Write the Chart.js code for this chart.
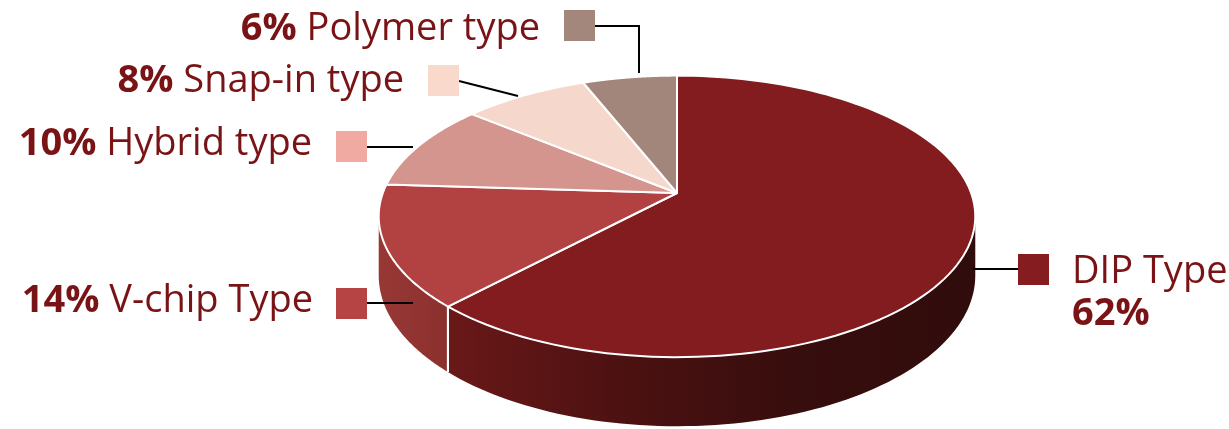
<!DOCTYPE html>
<html><head><meta charset="utf-8">
<script src="https://cdn.jsdelivr.net/npm/chart.js@4/dist/chart.umd.min.js"></script>
<style>html,body{margin:0;padding:0;background:#fff;}#wrap{width:1229px;height:429px;position:relative}</style>
</head><body><div id="wrap"><canvas id="c"></canvas></div>
<script>
// ---- data ----
const categories = ['DIP Type', 'V-chip Type', 'Hybrid type', 'Snap-in type', 'Polymer type'];
const shares = [62, 14, 10, 8, 6];
const percentLabels = ['62%', '14%', '10%', '8%', '6%'];

// ---- style ----
const sliceColors = ['#821c1f', '#b24141', '#d4958f', '#f6d7cb', '#a3867b'];
const swatchColors = ['#851c1f', '#b64444', '#f0aaa1', '#f9d9cc', '#a4877c'];
const sideStops = [
  ['#6a1818', '#4c1111', '#370d0d', '#310c0c'],
  ['#983835', '#8b302e'],
  ['#b07470', '#a06460'],
  ['#d8b8ac', '#c8a89c'],
  ['#8a6e64', '#7a5e54']
];
const textColor = '#7a1315';
const FONT = '"Open Sans", "Noto Sans", sans-serif';
const FS = 38;
// label layout (pixels)
const labelLayout = [
  { side: 'right', sq: [1018, 254], line: [[973, 269], [1018, 269]], x: 1072, base: 283, pctBase: 325 },
  { side: 'left', sq: [336, 288], line: [[367, 303], [413, 303]], x: 313, base: 312 },
  { side: 'left', sq: [336, 131], line: [[367, 147], [413, 147]], x: 312, base: 155 },
  { side: 'left', sq: [428, 65], line: [[459, 81], [518, 96]], x: 404, base: 92 },
  { side: 'left', sq: [564, 10], line: [[595, 26], [639, 26], [639, 73]], x: 540, base: 40 }
];
const SQ = 31;

function geom(el) {
  const R = el.outerRadius;
  return { cx: el.x, cy: el.y, A: R * 1.532, B: R * 0.713, e: 0.166, D: R * 0.30 };
}
function proj(g, th, rho, h) {
  const s = Math.sin(th), c = Math.cos(th);
  const d = 1 - g.e * rho * s;
  return [g.cx + g.A * rho * c / d, g.cy + (g.B * rho * s + (h || 0)) / d];
}

const pie3d = {
  id: 'pie3d',
  beforeDatasetsDraw(chart) {
    const ctx = chart.ctx;
    const arcs = chart.getDatasetMeta(0).data;
    const g = geom(arcs[0]);
    const a0 = Math.asin(g.e);
    const lo0 = a0, hi0 = Math.PI - a0;
    ctx.save();
    arcs.forEach((arc, i) => {
      const lo = Math.max(arc.startAngle, lo0), hi = Math.min(arc.endAngle, hi0);
      if (hi <= lo) return;
      const N = 80;
      const pL = proj(g, hi, 1), pR = proj(g, lo, 1);
      const grad = ctx.createLinearGradient(pL[0], 0, pR[0], 0);
      const st = sideStops[i];
      st.forEach((c, k) => grad.addColorStop(st.length === 1 ? 0 : k / (st.length - 1), c));
      ctx.beginPath();
      for (let k = 0; k <= N; k++) {
        const t = lo + (hi - lo) * k / N;
        const p = proj(g, t, 1, 0);
        k === 0 ? ctx.moveTo(p[0], p[1]) : ctx.lineTo(p[0], p[1]);
      }
      for (let k = N; k >= 0; k--) {
        const t = lo + (hi - lo) * k / N;
        const p = proj(g, t, 1, g.D);
        ctx.lineTo(p[0], p[1]);
      }
      ctx.closePath();
      ctx.fillStyle = grad;
      ctx.fill();
    });
    ctx.strokeStyle = '#ffffff';
    ctx.lineWidth = 2;
    arcs.forEach(arc => {
      [arc.startAngle, arc.endAngle].forEach(t => {
        if (t > lo0 && t < hi0) {
          const p1 = proj(g, t, 1, 0), p2 = proj(g, t, 1, g.D);
          ctx.beginPath(); ctx.moveTo(p1[0], p1[1]); ctx.lineTo(p2[0], p2[1]); ctx.stroke();
        }
      });
    });
    arcs.forEach((arc, i) => {
      const N = 120;
      ctx.beginPath();
      ctx.moveTo(g.cx, g.cy);
      for (let k = 0; k <= N; k++) {
        const t = arc.startAngle + (arc.endAngle - arc.startAngle) * k / N;
        const p = proj(g, t, 1, 0);
        ctx.lineTo(p[0], p[1]);
      }
      ctx.closePath();
      ctx.fillStyle = arc.options.backgroundColor;
      ctx.fill();
      ctx.lineJoin = 'round';
      ctx.strokeStyle = '#ffffff';
      ctx.lineWidth = 2;
      ctx.stroke();
    });
    ctx.restore();
    return false;
  },
  afterDraw(chart) {
    const ctx = chart.ctx;
    ctx.save();
    labelLayout.forEach((L, i) => {
      ctx.strokeStyle = '#000';
      ctx.lineWidth = 2;
      ctx.beginPath();
      L.line.forEach((p, k) => k === 0 ? ctx.moveTo(p[0], p[1]) : ctx.lineTo(p[0], p[1]));
      ctx.stroke();
      ctx.fillStyle = swatchColors[i];
      ctx.fillRect(L.sq[0], L.sq[1], SQ, SQ);
      ctx.fillStyle = textColor;
      ctx.textBaseline = 'alphabetic';
      if (L.side === 'right') {
        ctx.textAlign = 'left';
        ctx.font = `400 ${FS}px ${FONT}`;
        ctx.fillText(categories[i], L.x, L.base);
        ctx.font = `700 ${FS}px ${FONT}`;
        ctx.fillText(percentLabels[i], L.x, L.pctBase);
      } else {
        ctx.textAlign = 'right';
        ctx.font = `400 ${FS}px ${FONT}`;
        const name = ' ' + categories[i];
        ctx.fillText(name, L.x, L.base);
        const w = ctx.measureText(name).width;
        ctx.font = `700 ${FS}px ${FONT}`;
        ctx.fillText(percentLabels[i], L.x - w, L.base);
      }
    });
    ctx.restore();
  }
};

new Chart(document.getElementById('c'), {
  type: 'pie',
  data: { labels: categories, datasets: [{ data: shares, backgroundColor: sliceColors, borderColor: '#fff', borderWidth: 2 }] },
  options: {
    responsive: true, maintainAspectRatio: false, animation: false,
    layout: { padding: { left: 125, right: 0, top: 0, bottom: 43 } },
    plugins: { legend: { display: false }, tooltip: { enabled: false } }
  },
  plugins: [pie3d]
});
</script>
</body></html>
